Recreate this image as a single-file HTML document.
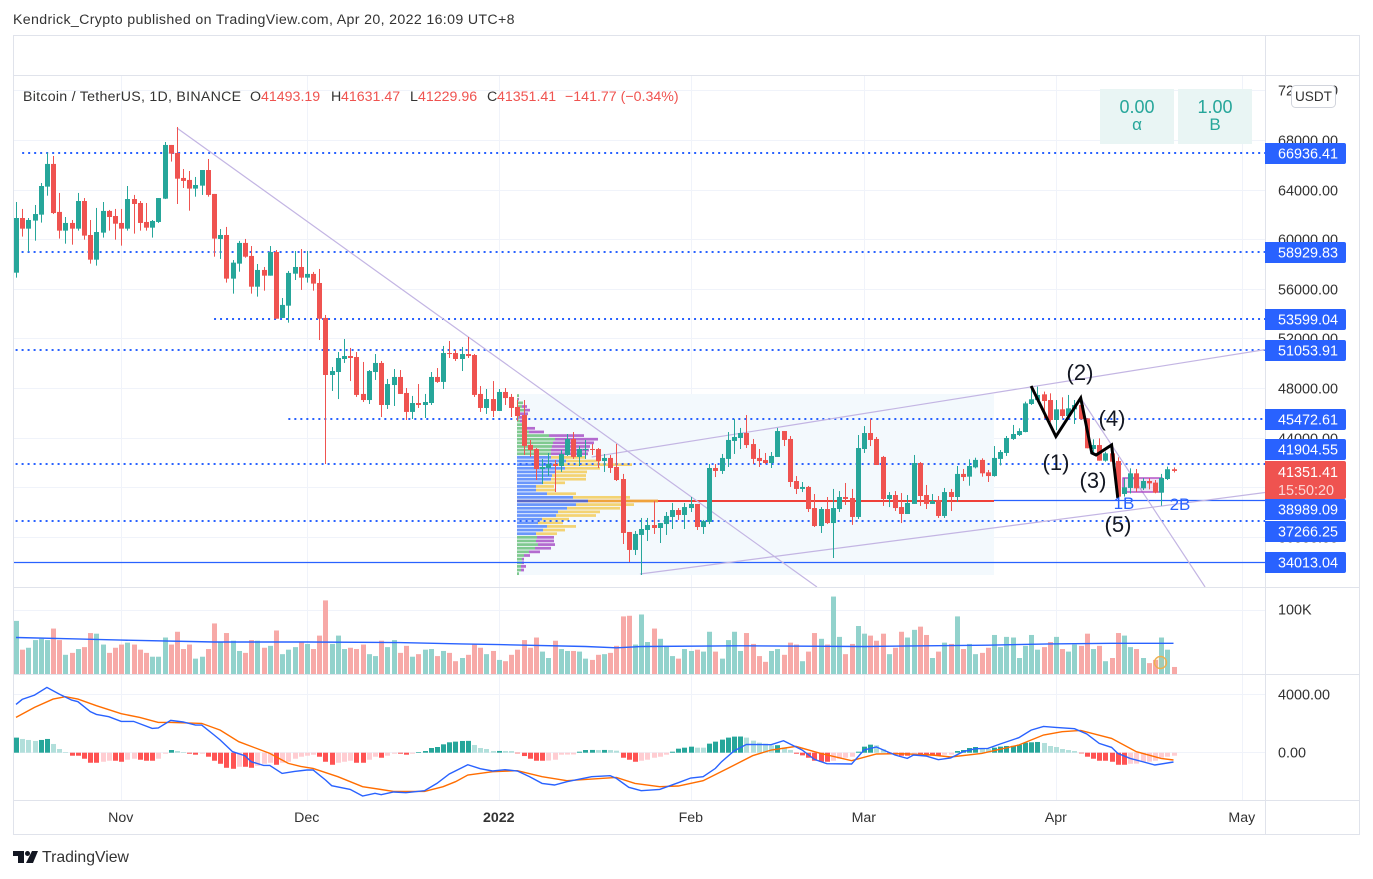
<!DOCTYPE html>
<html lang="en">
<head>
<meta charset="utf-8">
<title>BTCUSDT chart</title>
<style>
html,body{margin:0;padding:0;background:#fff;width:1373px;height:879px;overflow:hidden}
svg{display:block;font-family:"Liberation Sans",Arial,sans-serif}
</style>
</head>
<body>
<svg id="c" width="1373" height="879" viewBox="0 0 1373 879">
  <defs><clipPath id="pane"><rect x="14" y="76" width="1251" height="511"/></clipPath></defs>
  <text x="13" y="24" font-size="14.2" letter-spacing=".34" fill="#333">Kendrick_Crypto published on TradingView.com, Apr 20, 2022 16:09 UTC+8</text>
  <g id="grid"></g>
  <g clip-path="url(#pane)">
    <rect x="517" y="394" width="477" height="181" fill="#f3f9fd"/>
    <g id="vp"></g>
    <g id="levels"></g>
    <g id="trends"></g>
    <rect x="1123" y="478" width="39" height="14" fill="rgba(156,39,176,.14)" stroke="#a93cc0" stroke-width="1.3"/>
    <g id="candles"></g>
    <polyline id="zigzag" fill="none" stroke="#000" stroke-width="3" stroke-linejoin="miter"/>
    <g font-size="22" fill="#131722" text-anchor="middle">
      <text x="1056" y="470">(1)</text>
      <text x="1080" y="380">(2)</text>
      <text x="1093" y="488">(3)</text>
      <text x="1112" y="426">(4)</text>
      <text x="1118" y="532">(5)</text>
    </g>
    <text x="1124" y="509" font-size="17" fill="#2962ff" text-anchor="middle">1B</text>
    <text x="1180" y="510" font-size="17" fill="#2962ff" text-anchor="middle">2B</text>
  </g>
  <text x="23" y="101" font-size="14.2" letter-spacing=".26" fill="#333">Bitcoin / TetherUS, 1D, BINANCE</text>
  <g font-size="14.2">
    <text x="250" y="101" fill="#333">O</text>
    <text x="261" y="101" fill="#ef5350">41493.19</text>
    <text x="331" y="101" fill="#333">H</text>
    <text x="341" y="101" fill="#ef5350">41631.47</text>
    <text x="410" y="101" fill="#333">L</text>
    <text x="418" y="101" fill="#ef5350">41229.96</text>
    <text x="487" y="101" fill="#333">C</text>
    <text x="497" y="101" fill="#ef5350">41351.41</text>
    <text x="565" y="101" fill="#ef5350">−141.77 (−0.34%)</text>
  </g>
  <g>
    <rect x="1100" y="89" width="74" height="55" fill="#e9f5f4"/>
    <text x="1137" y="113" font-size="18" fill="#26a69a" text-anchor="middle">0.00</text>
    <text x="1137" y="130" font-size="17" fill="#26a69a" text-anchor="middle">α</text>
  </g>
  <g>
    <rect x="1178" y="89" width="74" height="55" fill="#e9f5f4"/>
    <text x="1215" y="113" font-size="18" fill="#26a69a" text-anchor="middle">1.00</text>
    <text x="1215" y="130" font-size="17" fill="#26a69a" text-anchor="middle">Β</text>
  </g>
  <g id="volume"></g>
  <polyline id="volMa" fill="none" stroke="#2962ff" stroke-width="1.4"/>
  <circle cx="1160.5" cy="662.5" r="6" fill="rgba(240,176,79,.15)" stroke="#efb04f" stroke-width="1.4"/>
  <g id="hist"></g>
  <polyline id="signalLine" fill="none" stroke="#ff6d00" stroke-width="1.4"/>
  <polyline id="macdLine" fill="none" stroke="#2962ff" stroke-width="1.4"/>
  <g id="frame" stroke="#e0e3eb" fill="none">
    <rect x="13.5" y="35.5" width="1346" height="799"/>
    <line x1="13" y1="75.5" x2="1360" y2="75.5"/>
    <line x1="13" y1="587.5" x2="1360" y2="587.5"/>
    <line x1="13" y1="674.5" x2="1360" y2="674.5"/>
    <line x1="13" y1="800.5" x2="1360" y2="800.5"/>
    <line x1="1265.5" y1="35" x2="1265.5" y2="835"/>
  </g>
  <g id="ticks" font-size="14.4" fill="#333"></g>
  <g id="months" font-size="14.2" fill="#333" text-anchor="middle"></g>
  <g id="tags"></g>
  <g>
    <path d="M1265 461H1344a2 2 0 0 1 2 2V497a2 2 0 0 1 -2 2H1265Z" fill="#ef5350"/>
    <text x="1278" y="477" font-size="14.4" fill="#fff">41351.41</text>
    <text x="1278" y="495" font-size="14.4" fill="#fff" fill-opacity=".75">15:50:20</text>
  </g>
  <g>
    <rect x="1291.5" y="85.5" width="44" height="22" rx="4" fill="#fff" stroke="#d1d4dc"/>
    <text x="1313.5" y="101" font-size="13.6" fill="#333" text-anchor="middle">USDT</text>
  </g>
  <g fill="#131722">
    <polygon points="13,851 24,851 24,863 18,863 18,856 13,856"/>
    <circle cx="27.5" cy="853.5" r="2.5"/>
    <polygon points="32,851 38,851 33,863 26,863"/>
    <text x="42" y="862" font-size="15.8" fill="#333">TradingView</text>
  </g>
</svg>
<script>
// Day index 0 = Nov 1 2021; first candle is firstDay.
const firstDay = -17;
const opens = [
57.34,61.75,60.89,61.54,62.02,64.28,66.11,62.24,60.73,61.35,
60.89,63.12,60.38,58.39,60.57,62.32,61.91,61.35,60.89,63.28,
62.96,61.43,60.97,61.43,63.31,67.64,66.99,64.98,64.82,64.12,
64.36,65.62,63.69,60.06,60.38,56.86,58.07,59.74,58.69,56.21,
57.56,57.10,59.01,53.69,54.68,57.26,57.80,56.94,57.24,56.51,
53.69,49.09,49.33,50.38,50.62,50.54,47.56,47.07,49.33,50.06,
46.67,48.28,48.93,47.64,46.11,46.83,46.67,46.83,48.93,48.53,
50.86,50.86,50.38,50.78,50.70,47.56,46.43,47.15,46.19,47.72,
47.32,46.51,45.86,43.45,43.12,41.51,41.59,41.91,41.75,42.64,
43.93,42.48,43.04,43.12,43.12,42.15,42.40,41.67,40.70,36.43,
34.98,36.19,36.59,36.99,36.75,37.07,37.64,38.20,37.80,38.36,
38.69,36.83,37.24,41.59,41.35,42.32,43.77,44.01,44.41,43.52,
42.40,42.23,41.99,42.48,44.57,43.93,40.54,39.90,40.06,38.36,
36.91,38.28,37.15,38.28,39.25,39.17,37.64,43.12,44.41,43.93,
42.48,39.09,39.41,38.44,37.88,38.69,41.99,39.41,38.69,39.01,
37.72,39.65,39.25,41.11,40.89,41.64,42.24,41.24,40.94,42.32,
42.80,43.93,44.25,44.49,46.75,47.07,47.53,47.07,45.46,46.32,
45.78,46.32,46.67,45.59,43.12,43.44,42.18,42.77,42.15,39.49,
39.98,41.16,39.95,40.54,40.41,39.60,40.70,41.49];
const highs = [
63.04,62.48,61.75,62.80,64.57,67.02,66.75,63.77,61.83,61.59,
63.77,63.36,61.59,62.56,63.04,62.40,62.48,62.48,64.33,63.61,
63.12,62.96,61.59,63.36,67.88,67.64,69.09,65.70,65.54,65.06,
65.62,66.51,63.69,60.86,61.03,58.36,59.90,60.06,59.49,58.04,
57.80,59.49,59.17,55.30,57.48,59.09,59.25,59.09,57.40,57.64,
53.93,49.73,50.94,51.99,51.27,50.94,50.14,49.49,50.78,50.22,
48.77,49.57,49.49,48.04,47.40,48.36,47.56,49.33,49.65,51.43,
51.83,51.11,51.35,52.15,50.78,48.20,47.96,48.60,47.96,48.04,
47.56,47.07,47.07,43.85,43.20,42.32,42.80,42.23,43.04,44.33,
44.49,43.36,43.85,43.53,43.20,42.72,42.64,43.53,41.11,36.43,
36.51,37.56,37.56,38.93,37.15,38.04,38.77,38.36,38.77,39.25,
38.69,37.40,41.91,41.91,42.72,44.49,45.54,44.82,45.86,43.93,
43.12,42.80,42.88,44.82,44.57,44.17,40.94,40.46,40.14,39.49,
38.44,39.25,39.90,39.73,40.38,39.90,44.25,44.97,45.54,44.09,
42.56,39.65,39.73,39.57,39.41,42.64,42.07,40.22,39.49,39.33,
39.98,39.90,41.75,41.51,42.29,42.42,42.37,41.43,43.36,43.04,
44.17,45.06,44.79,46.94,48.20,48.15,47.75,47.61,47.07,47.29,
47.48,47.07,47.34,45.59,43.90,43.98,42.91,43.44,42.45,40.76,
41.56,41.51,40.76,40.76,40.62,41.11,41.70,41.63];
const lows = [
56.94,60.25,59.04,59.92,61.38,63.55,62.07,60.09,59.68,59.60,
60.73,60.00,58.07,57.91,60.17,60.73,60.00,59.52,60.73,60.49,
60.73,60.73,60.17,61.35,63.28,66.30,62.88,64.17,62.34,63.47,
63.61,63.47,58.63,58.45,56.54,55.65,57.42,58.55,55.65,55.41,
55.89,57.10,53.63,53.69,53.31,56.75,55.95,56.54,55.89,51.91,
41.91,47.80,47.15,50.06,48.60,47.32,46.91,46.75,48.69,45.70,
46.35,46.59,47.56,45.46,45.54,46.43,45.62,46.67,48.45,47.96,
50.46,50.22,49.41,50.46,47.32,46.11,45.95,45.70,46.19,46.67,
45.70,45.38,42.64,42.48,40.62,40.30,40.95,39.65,41.27,42.56,
42.32,41.75,42.32,42.64,41.59,41.27,41.19,40.54,35.46,34.01,
34.57,32.96,35.70,36.27,35.54,36.19,36.67,37.40,36.67,38.04,
36.59,36.27,37.07,40.86,41.11,41.67,42.72,43.12,43.20,41.91,
41.67,41.91,41.59,42.48,43.36,40.06,39.49,39.65,38.04,36.83,
36.35,37.07,34.33,38.04,38.61,37.00,37.48,42.80,43.36,41.83,
38.53,38.44,38.12,37.15,37.88,38.69,38.53,38.28,38.69,37.56,
37.56,38.12,38.85,40.54,40.16,41.56,40.89,40.46,40.89,41.80,
42.56,43.85,44.17,44.47,46.67,46.94,45.59,45.32,44.64,45.59,
45.59,45.14,45.46,43.18,42.64,42.18,42.10,42.10,39.14,39.28,
39.54,39.68,39.81,39.87,39.55,38.55,40.62,41.23];
const closes = [
61.75,60.89,61.59,62.07,64.33,66.11,62.15,60.73,61.35,60.89,
63.12,60.33,58.39,60.62,62.32,61.83,61.29,60.89,63.28,62.88,
61.35,60.97,61.51,63.36,67.64,66.94,64.92,64.74,64.12,64.41,
65.62,63.61,60.09,60.38,56.86,58.15,59.74,58.63,56.21,57.56,
57.10,59.01,53.63,54.74,57.32,57.80,56.94,57.24,56.46,53.63,
49.09,49.41,50.46,50.62,50.46,47.48,47.07,49.41,50.06,46.67,
48.36,48.93,47.56,46.11,46.83,46.67,46.91,48.93,48.53,50.86,
50.78,50.38,50.78,50.62,47.48,46.43,47.15,46.19,47.72,47.23,
46.43,45.78,43.37,43.04,41.51,41.67,41.91,41.75,42.72,43.93,
42.48,43.12,43.12,43.04,42.15,42.40,41.59,40.62,36.35,34.98,
36.27,36.67,36.99,36.75,37.15,37.72,38.20,37.80,38.44,38.69,
36.83,37.32,41.59,41.35,42.40,43.85,44.09,44.41,43.44,42.32,
42.15,41.99,42.56,44.57,43.85,40.46,39.90,40.06,38.28,36.91,
38.28,37.15,38.36,39.25,39.09,37.64,43.20,44.41,43.85,41.83,
39.09,39.41,38.36,37.88,38.77,41.99,39.33,38.69,38.93,37.72,
39.65,39.25,41.11,40.86,41.75,42.24,41.16,40.94,42.40,42.88,
44.01,44.33,44.57,46.80,47.13,47.48,46.99,45.46,46.32,45.78,
46.40,46.67,45.54,43.18,43.44,42.18,42.77,42.10,39.28,40.03,
41.16,39.95,40.54,40.35,39.60,40.78,41.49,41.35];
const volumes = [
83,38,41,53,55,53,71,53,30,33,
39,42,64,63,46,33,41,46,49,46,
38,33,27,27,57,46,66,39,46,24,
27,39,79,50,64,52,36,33,53,52,
41,44,68,31,38,42,50,47,39,60,
115,47,60,39,41,39,46,31,28,52,
42,53,33,44,27,31,38,39,28,36,
33,20,25,30,46,41,31,36,22,20,
30,38,53,41,57,35,25,52,39,36,
36,35,24,22,30,31,33,44,90,91,
46,93,50,71,55,44,28,24,39,36,
38,35,66,35,24,53,66,36,64,47,
28,19,36,39,30,49,46,20,35,64,
55,46,121,58,31,47,75,63,60,52,
63,31,41,66,57,69,74,61,25,35,
49,47,90,39,47,31,33,41,61,42,
58,57,25,44,61,38,42,50,58,39,
35,46,44,63,39,44,20,25,64,60,
42,39,25,17,22,57,38,11];
const volMaDays = [-17,-8,0,15,30,45,55,61,75,80,84,100,120,130,140,150,160,170];
const volMaValues = [57,55,53,50,50,49,47,46,43,41,43,44,43,44,45,47,48,48];
const macdHistogram = [
1035,943,874,805,874,943,598,253,46,-207,
-207,-414,-690,-690,-621,-552,-552,-621,-483,-414,
-483,-552,-552,-414,-69,184,115,46,-69,-138,
-69,-276,-552,-759,-1035,-1104,-966,-966,-1035,-897,
-759,-690,-828,-690,-621,-414,-276,-207,-138,-276,
-621,-828,-690,-621,-552,-690,-690,-483,-276,-345,
-207,-69,-69,-138,-69,46,115,322,391,575,
713,759,805,812,529,322,253,115,120,115,
110,-46,-230,-414,-552,-552,-540,-483,-138,-130,
-120,69,184,190,180,190,180,138,-345,-483,
-621,-552,-483,-345,-276,-138,69,276,345,414,
345,345,621,759,897,1035,1104,1110,1035,828,
690,621,506,515,345,184,-69,-184,-345,-552,
-621,-621,-552,-414,-345,-276,69,414,552,506,
230,-46,-138,-207,-207,-138,-207,-207,-207,-207,
-138,-130,115,184,322,391,276,253,345,414,
460,470,552,690,713,736,667,460,391,253,
184,115,-46,-276,-414,-552,-552,-621,-828,-828,
-759,-750,-621,-615,-552,-345,-276,-207];
const macdDays = [-17,-16,-14,-12,-10,-8,-7,-5,-4,-2,0,2,5,6,8,10,12,13,15,16,18,20,21,23,24,26,28,30,31,33,34,37,39,41,42,44,46,49,51,53,56,58,60,62,64,66,68,70,72,76,79,80,82,84,87,90,92,94,96,97,99,101,105,107,110,112,114,118,120,122,125,127,128,130,132,134,136,138,140,142,145,147,149,151,154,156,158,160,161,163,167,170];
const macdValues = [3315,3658,3955,4481,4023,3612,3498,2812,2629,2469,2149,2149,1669,1692,2217,2103,1897,1897,1212,869,69,-206,-617,-869,-869,-1417,-1280,-1189,-1189,-1875,-2263,-2515,-2972,-2789,-2880,-2697,-2743,-2606,-2103,-1463,-823,-1097,-1257,-1166,-1257,-1646,-2103,-2217,-1989,-1646,-1577,-1760,-2377,-2606,-2515,-2057,-1737,-1646,-1074,-617,114,571,549,823,183,-457,-754,-777,183,389,-160,-389,-160,-229,-480,-366,69,274,297,594,1029,1554,1806,1737,1646,1280,640,366,-46,-389,-846,-640];
const signalDays = [-17,-14,-11,-9,-7,-4,0,3,6,8,13,16,19,24,27,29,31,35,39,44,49,52,54,56,60,64,68,72,80,83,87,90,94,98,102,105,109,113,118,122,126,131,134,139,145,149,152,155,160,164,168,170];
const signalValues = [2423,3109,3680,3840,3680,3223,2675,2423,2080,2080,2012,1554,754,-46,-732,-937,-1074,-1646,-2332,-2652,-2652,-2332,-1989,-1532,-1303,-1234,-1646,-1920,-1692,-2103,-2332,-2286,-1920,-1074,-206,183,434,-46,-549,-91,-69,-160,-297,-46,526,1212,1440,1532,983,69,-389,-503];
const vpUp = [2,1,6,5,7,3,2,3,5,9,12,32,38,36,35,34,34,34,49,37,48,38,35,34,26,19,19,30,56,71,59,50,41,39,25,21,30,26,19,20,19,21,18,12,7,5,5,4,4,2];
const vpDown = [0,1,0,5,6,8,3,3,5,9,15,35,43,41,38,38,37,34,34,78,35,32,34,35,22,18,19,29,57,70,58,53,42,40,27,25,29,22,21,17,18,17,16,11,6,2,2,5,3,0];
const vpHighPrice = 47570;
const vpLowPrice = 32917;
const vpValueAreaFirst = 17;
const vpValueAreaLast = 38;
const vpPocRow = 29;
const dottedLevels = [66936.41,58929.83,53599.04,51053.91,45472.61,41904.55,37266.25];
const dottedStartDays = [-16,-19,15,-19,27,-19,-19];
const solidLevels = [38989.09,34013.04];
const solidStartDays = [141,-19];
const tagPrices = [66936.41,58929.83,53599.04,51053.91,45472.61,41904.55,38989.09,37266.25,34013.04];
const tagLabels = ['66936.41','58929.83','53599.04','51053.91','45472.61','41904.55','38989.09','37266.25','34013.04'];
const tagOffsets = [0,0,0,0,0,-15,9,10,1];
const priceTicks = [72000,68000,64000,60000,56000,52000,48000,44000,40000,36000];
const monthDays = [0,30,61,92,120,151,181];
const monthLabels = ['Nov','Dec','2022','Feb','Mar','Apr','May'];
const trendStartDays = [9,83.8,76,155];
const trendStartPrices = [69008,33040,42476,47234];
const trendEndDays = [112.4,184.8,184.8,175.1];
const trendEndPrices = [31992,39613,51137,31992];
const zigzagDays = [147,151,155,156.8,157.5,160,161];
const zigzagPrices = [48200,44129,47234,42798,42637,43444,39169];
const pocPrice = 38930;
const volumeTick = 100;
const macdTicks = [4000,0];

const NS = 'http://www.w3.org/2000/svg';
const $ = id => document.getElementById(id);
const xOf = d => 121.2 + 6.19 * d;
const yPrice = p => 388.5 - (p - 48000) * 0.0124;
const yVol = v => 674 - v * 0.64;
const yMacd = v => 752.7 - v * 0.014575;
function el(parent, tag, attrs) {
  const e = document.createElementNS(NS, tag);
  for (const k in attrs) e.setAttribute(k, attrs[k]);
  parent.appendChild(e);
  return e;
}
const GRID = '#f0f3fa';

// Grid
monthDays.forEach((d, i) => {
  const x = Math.round(xOf(d)) + 0.5;
  const line = el($('grid'), 'line', {x1: x, x2: x, y1: 76, y2: 800, stroke: GRID});
  
  
  const t = el($('months'), 'text', {x: x - 0.7, y: 822, 'font-weight': monthLabels[i] === '2022' ? 'bold' : 'normal'});
  
  
  t.textContent = monthLabels[i];
});
priceTicks.forEach(p => {
  const y = Math.floor(yPrice(p)) + 0.5;
  const line = el($('grid'), 'line', {x1: 14, x2: 1265, y1: y, y2: y, stroke: GRID});
  
  
  const t = el($('ticks'), 'text', {x: 1278, y: y + 5});
  
  
  t.textContent = p.toFixed(2);
});
{
  const y = Math.floor(yVol(volumeTick)) + 0.5;
  const line = el($('grid'), 'line', {x1: 14, x2: 1265, y1: y, y2: y, stroke: GRID});
  
  
  const t = el($('ticks'), 'text', {x: 1278, y: y + 4});
  
  
  t.textContent = volumeTick + 'K';
}
macdTicks.forEach(v => {
  const y = Math.floor(yMacd(v)) + 0.5;
  const line = el($('grid'), 'line', {x1: 14, x2: 1265, y1: y, y2: y, stroke: GRID});
  
  
  const t = el($('ticks'), 'text', {x: 1278, y: y + 5});
  
  
  t.textContent = v.toFixed(2);
});

// Volume profile
{
  const rows = vpUp.length;
  const top = yPrice(vpHighPrice);
  const rowH = (yPrice(vpLowPrice) - top) / rows;
  const left = 517;
  vpUp.forEach((up, r) => {
    const inVA = r >= vpValueAreaFirst && r <= vpValueAreaLast;
    const isPoc = r === vpPocRow;
    const y = top + r * rowH + 0.4;
    const upBar = el($('vp'), 'rect', {x: left, y: y, width: up, height: rowH - 0.9,
      fill: isPoc ? '#5a68c8' : (inVA ? '#6a96fb' : '#7fc98f')});
    
    
    const downBar = el($('vp'), 'rect', {x: left + up, y: y, width: vpDown[r], height: rowH - 0.9,
      fill: isPoc ? '#f0a33c' : (inVA ? '#f3d373' : '#b36bcf')});
    
    
  });
  const py = Math.round(yPrice(pocPrice));
  const end = left + vpUp[vpPocRow] + vpDown[vpPocRow];
  const poc = el($('vp'), 'line', {x1: end, x2: 994, y1: py, y2: py, stroke: '#ef4139', 'stroke-width': 2});
  
  
}

// Horizontal levels
dottedLevels.forEach((p, i) => {
  const y = Math.floor(yPrice(p));
  const line = el($('levels'), 'line', {x1: xOf(dottedStartDays[i]), x2: 1265, y1: y, y2: y, stroke: '#2962ff', 'stroke-width': 2, 'stroke-dasharray': '2 4'});
  
  
});
solidLevels.forEach((p, i) => {
  const y = Math.round(yPrice(p)) + 0.5;
  const line = el($('levels'), 'line', {x1: xOf(solidStartDays[i]), x2: 1265, y1: y, y2: y, stroke: '#2962ff', 'stroke-width': 1.2});
  
  
});

// Trend lines
trendStartDays.forEach((d, i) => {
  const line = el($('trends'), 'line', {x1: xOf(d), y1: yPrice(trendStartPrices[i]), x2: xOf(trendEndDays[i]), y2: yPrice(trendEndPrices[i]), stroke: '#c3b5e3', 'stroke-width': 1.2});
  
  
});

// Candles, volume, histogram
opens.forEach((o, i) => {
  const d = firstDay + i;
  const cx = Math.round(xOf(d));
  const up = closes[i] >= o;
  const col = up ? '#26a69a' : '#ef5350';
  const yH = yPrice(highs[i] * 1000), yL = yPrice(lows[i] * 1000);
  const yT = yPrice(Math.max(o, closes[i]) * 1000), yB = yPrice(Math.min(o, closes[i]) * 1000);
  const wick = el($('candles'), 'rect', {x: cx, y: yH, width: 1, height: Math.max(1, yL - yH), fill: col});
  
  
  const body = el($('candles'), 'rect', {x: cx - 2, y: yT, width: 5, height: Math.max(1, yB - yT), fill: col});
  
  

  const vy = yVol(volumes[i]);
  const vb = el($('volume'), 'rect', {x: cx - 2, y: vy, width: 5, height: 674 - vy, fill: up ? '#92d2cc' : '#f7a9a7'});
  
  

  const h = macdHistogram[i];
  const prev = i > 0 ? macdHistogram[i - 1] : h - 1;
  const rising = prev < h;
  const hc = h >= 0 ? (rising ? '#26a69a' : '#b2dfdb') : (rising ? '#ffcdd2' : '#ff5252');
  const y0 = yMacd(0), y1 = yMacd(h);
  const hb = el($('hist'), 'rect', {x: cx - 2, y: Math.min(y0, y1), width: 5, height: Math.max(0.6, Math.abs(y1 - y0)), fill: hc});
  
  
});

// Lines
const pts = (days, values, yFn) => days.map((d, i) => xOf(d).toFixed(1) + ',' + yFn(values[i]).toFixed(1)).join(' ');
$('volMa').setAttribute('points', pts(volMaDays, volMaValues, yVol));
$('macdLine').setAttribute('points', pts(macdDays, macdValues, yMacd));
$('signalLine').setAttribute('points', pts(signalDays, signalValues, yMacd));
$('zigzag').setAttribute('points', pts(zigzagDays, zigzagPrices, yPrice));

// Price tags
tagPrices.forEach((p, i) => {
  const cy = Math.floor(yPrice(p)) + tagOffsets[i] + 0.5;
  const bg = el($('tags'), 'path', {d: `M1265 ${cy - 10.5}H1344a2 2 0 0 1 2 2V${cy + 8.5}a2 2 0 0 1 -2 2H1265Z`, fill: '#2962ff'});
  
  
  const t = el($('tags'), 'text', {x: 1278, y: cy + 5, 'font-size': 14.4, fill: '#fff'});
  
  
  t.textContent = tagLabels[i];
});
</script>
</body>
</html>
